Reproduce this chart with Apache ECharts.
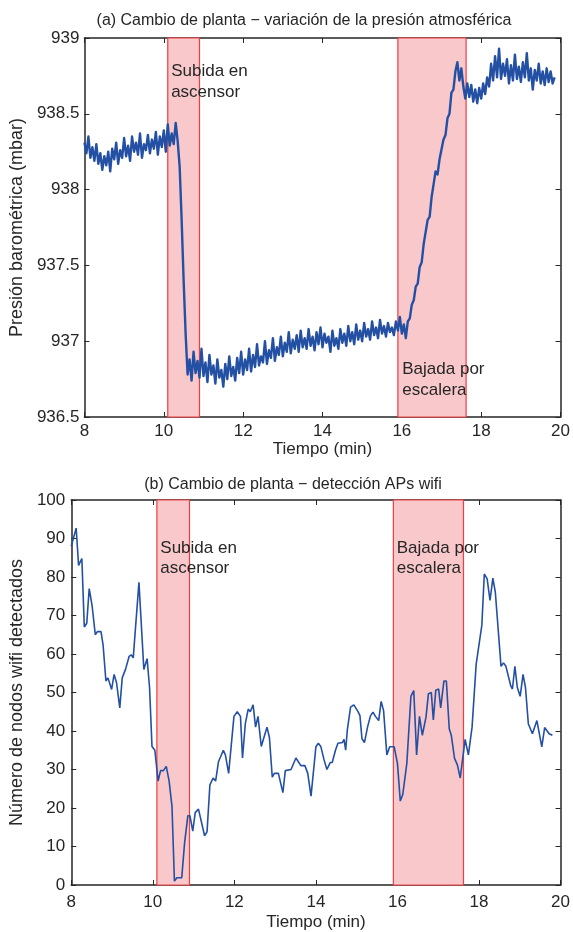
<!DOCTYPE html>
<html>
<head>
<meta charset="utf-8">
<script src="https://cdn.jsdelivr.net/npm/echarts@6/dist/echarts.min.js"></script>
<style>
html,body{margin:0;padding:0;background:#fff;}
#chart{width:573px;height:932px;}
</style>
</head>
<body>
<div id="chart"></div>
<script>
// ---- Panel (a): barometric pressure ----
var pressTime = [
8.00,8.05,8.10,8.15,8.20,8.25,8.30,8.35,8.40,8.45,8.50,8.55,8.60,8.65,8.70,8.75,8.80,8.85,8.90,8.95,
9.00,9.05,9.10,9.15,9.20,9.25,9.30,9.35,9.40,9.45,9.50,9.55,9.60,9.65,9.70,9.75,9.80,9.85,9.90,9.95,
10.00,10.05,10.10,10.15,10.20,10.25,10.30,10.35,10.40,10.45,10.50,10.55,10.60,10.65,10.70,10.75,10.80,10.85,10.90,10.95,
11.00,11.05,11.10,11.15,11.20,11.25,11.30,11.35,11.40,11.45,11.50,11.55,11.60,11.65,11.70,11.75,11.80,11.85,11.90,11.95,
12.00,12.05,12.10,12.15,12.20,12.25,12.30,12.35,12.40,12.45,12.50,12.55,12.60,12.65,12.70,12.75,12.80,12.85,12.90,12.95,
13.00,13.05,13.10,13.15,13.20,13.25,13.30,13.35,13.40,13.45,13.50,13.55,13.60,13.65,13.70,13.75,13.80,13.85,13.90,13.95,
14.00,14.05,14.10,14.15,14.20,14.25,14.30,14.35,14.40,14.45,14.50,14.55,14.60,14.65,14.70,14.75,14.80,14.85,14.90,14.95,
15.00,15.05,15.10,15.15,15.20,15.25,15.30,15.35,15.40,15.45,15.50,15.55,15.60,15.65,15.70,15.75,15.80,15.85,15.90,15.95,
16.00,16.05,16.10,16.15,16.20,16.25,16.30,16.35,16.40,16.45,16.50,16.55,16.60,16.65,16.70,16.75,16.80,16.85,16.90,16.95,
17.00,17.05,17.10,17.15,17.20,17.25,17.30,17.35,17.40,17.45,17.50,17.55,17.60,17.65,17.70,17.75,17.80,17.85,17.90,17.95,
18.00,18.05,18.10,18.15,18.20,18.25,18.30,18.35,18.40,18.45,18.50,18.55,18.60,18.65,18.70,18.75,18.80,18.85,18.90,18.95,
19.00,19.05,19.10,19.15,19.20,19.25,19.30,19.35,19.40,19.45,19.50,19.55,19.60,19.65,19.70,19.75,19.80,19.85
];
var pressValue = [
938.31,938.24,938.35,938.21,938.28,938.19,938.30,938.17,938.24,938.13,938.22,938.16,938.25,938.12,938.27,938.20,938.31,938.17,938.26,938.21,
938.34,938.22,938.29,938.19,938.35,938.25,938.31,938.23,938.37,938.21,938.30,938.26,938.36,938.24,938.33,938.27,938.38,938.23,938.35,938.28,
938.39,938.25,938.43,938.29,938.37,938.30,938.44,938.32,938.15,937.80,937.40,937.05,936.78,936.88,936.74,936.93,936.79,936.87,936.76,936.95,
936.77,936.86,936.73,936.91,936.78,936.84,936.72,936.88,936.76,936.81,936.70,936.85,936.75,936.90,936.77,936.83,936.74,936.89,936.79,936.93,
936.78,936.88,936.81,936.95,936.80,936.91,936.83,936.98,936.84,936.90,936.86,937.00,936.85,936.94,936.89,937.02,936.87,936.96,936.91,937.03,
936.90,936.99,936.93,937.06,936.92,937.01,936.95,937.04,936.93,937.07,936.96,937.02,936.95,937.08,936.97,937.03,936.94,937.06,936.98,937.09,
936.96,937.05,936.99,937.03,936.93,937.07,936.97,937.02,936.95,937.08,936.99,937.05,936.97,937.10,937.00,937.06,936.98,937.11,937.01,937.07,
937.00,937.12,937.03,937.08,937.01,937.13,937.04,937.09,937.02,937.14,937.05,937.10,937.03,937.12,937.06,937.09,937.04,937.13,937.07,937.16,
937.05,937.11,937.02,937.13,937.15,937.24,937.27,937.36,937.38,937.49,937.52,937.64,937.65,937.80,937.82,937.95,937.96,938.12,938.10,938.20,
938.21,938.33,938.36,938.47,938.50,938.64,938.66,938.78,938.84,938.72,938.80,938.68,938.60,938.70,938.61,938.69,938.58,938.66,938.57,938.67,
938.60,938.70,938.63,938.74,938.68,938.83,938.72,938.88,938.74,938.93,938.73,938.83,938.75,938.86,938.70,938.82,938.72,938.89,938.73,938.81,
938.71,938.84,938.74,938.90,938.72,938.80,938.66,938.79,938.72,938.83,938.70,938.78,938.69,938.80,938.71,938.78,938.70,938.74
];

// ---- Panel (b): wifi APs detected ----
var wifiTime = [
8.00,8.12,8.18,8.26,8.32,8.38,8.44,8.51,8.59,8.64,8.73,8.78,8.85,8.90,8.99,9.05,9.11,9.19,9.25,9.33,
9.42,9.47,9.52,9.66,9.78,9.86,9.92,9.98,10.05,10.13,10.19,10.26,10.33,10.40,10.47,10.53,10.59,10.71,10.78,10.86,
10.91,10.98,11.04,11.12,11.27,11.33,11.40,11.48,11.54,11.61,11.73,11.78,11.86,11.99,12.07,12.15,12.20,12.27,12.34,12.39,
12.46,12.52,12.58,12.66,12.80,12.86,12.93,12.98,13.08,13.19,13.25,13.39,13.51,13.63,13.73,13.80,13.88,13.96,14.00,14.06,
14.12,14.20,14.27,14.35,14.40,14.48,14.54,14.65,14.69,14.73,14.77,14.85,14.93,15.03,15.08,15.13,15.19,15.27,15.34,15.40,
15.46,15.54,15.60,15.66,15.74,15.81,15.92,16.00,16.07,16.13,16.23,16.33,16.40,16.47,16.54,16.61,16.70,16.76,16.83,16.88,
16.94,17.01,17.06,17.14,17.20,17.27,17.32,17.40,17.47,17.54,17.66,17.74,17.83,17.93,18.07,18.13,18.20,18.27,18.34,18.40,
18.54,18.60,18.66,18.78,18.82,18.88,18.94,19.01,19.08,19.14,19.21,19.31,19.42,19.54,19.61,19.72,19.80
];
var wifiValue = [
88,92.7,83,84.8,67,68,77,72.6,65,65.8,65.8,62.4,53,53.8,50.8,54.7,52.6,46,53.8,56,
59.4,59.8,59,78.6,56,58.8,51.3,36,35,27,29.7,29.7,30.8,27,20.5,1,1.9,1.9,11,18,
18,14,18.8,19.7,12.8,13.8,26,27.8,27,32,35,33.8,29,43.8,45,43.8,33,42,45.7,45,
46.8,41,43.8,36,41,38.3,28,29,29,24,29.7,30,33,31,31,29,23.1,31.6,35.9,36.8,
36,32.5,30,31.8,31.8,35,36.8,37,37.8,35,40.2,46.2,46.8,45.1,44,38,37,41.2,44,44.9,
43.8,42.7,47.7,45.3,33.8,35.9,35.9,31.6,21.8,23.5,31.6,49,50.5,33.8,43.8,38.9,43.6,49.7,50,42.9,
50.6,50.9,46,53,53,40.6,38.9,32.9,31.2,27.8,37.8,33.8,41,57.3,67.5,80.8,79.5,73.9,79.7,76.1,
56.8,57.7,56.8,51.7,50.9,56.8,51.3,49,54.7,51.3,41.9,39.3,42.7,35.9,40.9,39.3,38.9
];

// shaded intervals (minutes)
var elevatorSpan = [10.1, 10.9];
var stairsSpan = [15.9, 17.62];

var titleA = '(a) Cambio de planta \u2212 variaci\u00f3n de la presi\u00f3n atmosf\u00e9rica';
var titleB = '(b) Cambio de planta \u2212 detecci\u00f3n APs wifi';

var FONT = '"Liberation Sans", Arial, Helvetica, sans-serif';
var TXT = '#262626';
var LINE = '#2450a4';

function pairs(t, v) { return t.map(function (x, i) { return [x, v[i]]; }); }

var chart = echarts.init(document.getElementById('chart'), null, {renderer: 'canvas'});

function xAxisMain(grid, nameGap, margin) {
  return {
    type: 'value', gridIndex: grid, min: 8, max: 20, interval: 2, position: 'bottom',
    name: 'Tiempo (min)', nameLocation: 'middle', nameGap: nameGap,
    nameTextStyle: {color: TXT, fontSize: 17, fontFamily: FONT},
    axisLine: {show: true, onZero: false, lineStyle: {color: TXT, width: 1.5}},
    axisTick: {show: true, inside: true, length: 5, lineStyle: {color: TXT, width: 1}},
    axisLabel: {color: TXT, fontSize: 17, fontFamily: FONT, margin: margin},
    splitLine: {show: false}
  };
}
function xAxisTop(grid) {
  return {
    type: 'value', gridIndex: grid, min: 8, max: 20, interval: 2, position: 'top',
    axisLine: {show: true, onZero: false, lineStyle: {color: TXT, width: 1.5}},
    axisTick: {show: true, inside: true, length: 5, lineStyle: {color: TXT, width: 1}},
    axisLabel: {show: false}, splitLine: {show: false}
  };
}
function yAxisRight(grid, min, max, interval) {
  return {
    type: 'value', gridIndex: grid, min: min, max: max, interval: interval, position: 'right',
    axisLine: {show: true, onZero: false, lineStyle: {color: TXT, width: 1.5}},
    axisTick: {show: true, inside: true, length: 5, lineStyle: {color: TXT, width: 1}},
    axisLabel: {show: false}, splitLine: {show: false}
  };
}

var areaStyle = {color: '#f8c8ca', borderColor: '#ef3e42', borderWidth: 1.2};
var labelStyle = {color: TXT, fontSize: 17, fontFamily: FONT, lineHeight: 21};

chart.setOption({
  animation: false,
  backgroundColor: '#fff',
  title: [
    {text: titleA, left: 299, top: 8, textAlign: 'center',
     textStyle: {color: TXT, fontSize: 16, fontWeight: 'normal', fontFamily: FONT}},
    {text: titleB, left: 288, top: 472, textAlign: 'center',
     textStyle: {color: TXT, fontSize: 16, fontWeight: 'normal', fontFamily: FONT}}
  ],
  grid: [
    {left: 83, top: 38, width: 479, height: 379},
    {left: 68, top: 500, width: 494, height: 390}
  ],
  xAxis: [xAxisMain(0, 23, 6), xAxisTop(0), xAxisMain(1, 29, 9), xAxisTop(1)],
  yAxis: [
    {type: 'value', gridIndex: 0, min: 936.5, max: 939, interval: 0.5, position: 'left',
     name: 'Presi\u00f3n barom\u00e9trica (mbar)', nameLocation: 'middle', nameGap: 40,
     nameTextStyle: {color: TXT, fontSize: 18, fontFamily: FONT},
     axisLine: {show: true, onZero: false, lineStyle: {color: TXT, width: 1.5}},
     axisTick: {show: true, inside: true, length: 5, lineStyle: {color: TXT, width: 1}},
     axisLabel: {color: TXT, fontSize: 17, fontFamily: FONT, margin: 5},
     splitLine: {show: false}},
    yAxisRight(0, 936.5, 939, 0.5),
    {type: 'value', gridIndex: 1, min: 0, max: 100, interval: 10, position: 'left',
     name: 'N\u00famero de nodos wifi detectados', nameLocation: 'middle', nameGap: 37,
     nameTextStyle: {color: TXT, fontSize: 18, fontFamily: FONT},
     axisLine: {show: true, onZero: false, lineStyle: {color: TXT, width: 1.5}},
     axisTick: {show: true, inside: true, length: 5, lineStyle: {color: TXT, width: 1}},
     axisLabel: {color: TXT, fontSize: 17, fontFamily: FONT, margin: 6},
     splitLine: {show: false}},
    yAxisRight(1, 0, 100, 10)
  ],
  series: [
    {type: 'line', xAxisIndex: 0, yAxisIndex: 0, data: pairs(pressTime, pressValue),
     showSymbol: false, symbol: 'none', z: 5,
     lineStyle: {color: LINE, width: 2.4, join: 'round'},
     markArea: {silent: true, itemStyle: areaStyle, data: [
       [{xAxis: elevatorSpan[0], yAxis: 939,
         label: Object.assign({show: true, position: 'insideTopLeft', distance: 5, offset: [-1, 18],
           formatter: 'Subida en\nascensor'}, labelStyle)},
        {xAxis: elevatorSpan[1], yAxis: 936.5}],
       [{xAxis: stairsSpan[0], yAxis: 939,
         label: Object.assign({show: true, position: 'insideBottomLeft', distance: 5, offset: [0, -12],
           formatter: 'Bajada por\nescalera'}, labelStyle)},
        {xAxis: stairsSpan[1], yAxis: 936.5}]
     ]}},
    {type: 'line', xAxisIndex: 2, yAxisIndex: 2, data: pairs(wifiTime, wifiValue),
     showSymbol: false, symbol: 'none', z: 5,
     lineStyle: {color: LINE, width: 1.6},
     markArea: {silent: true, itemStyle: areaStyle, data: [
       [{xAxis: elevatorSpan[0], yAxis: 100,
         label: Object.assign({show: true, position: 'insideTopLeft', distance: 5, offset: [-1, 34],
           formatter: 'Subida en\nascensor'}, labelStyle, {lineHeight: 20})},
        {xAxis: elevatorSpan[1], yAxis: 0}],
       [{xAxis: stairsSpan[0], yAxis: 100,
         label: Object.assign({show: true, position: 'insideTopLeft', distance: 5, offset: [-1, 34],
           formatter: 'Bajada por\nescalera'}, labelStyle, {lineHeight: 20})},
        {xAxis: stairsSpan[1], yAxis: 0}]
     ]}}
  ]
});
</script>
</body>
</html>
